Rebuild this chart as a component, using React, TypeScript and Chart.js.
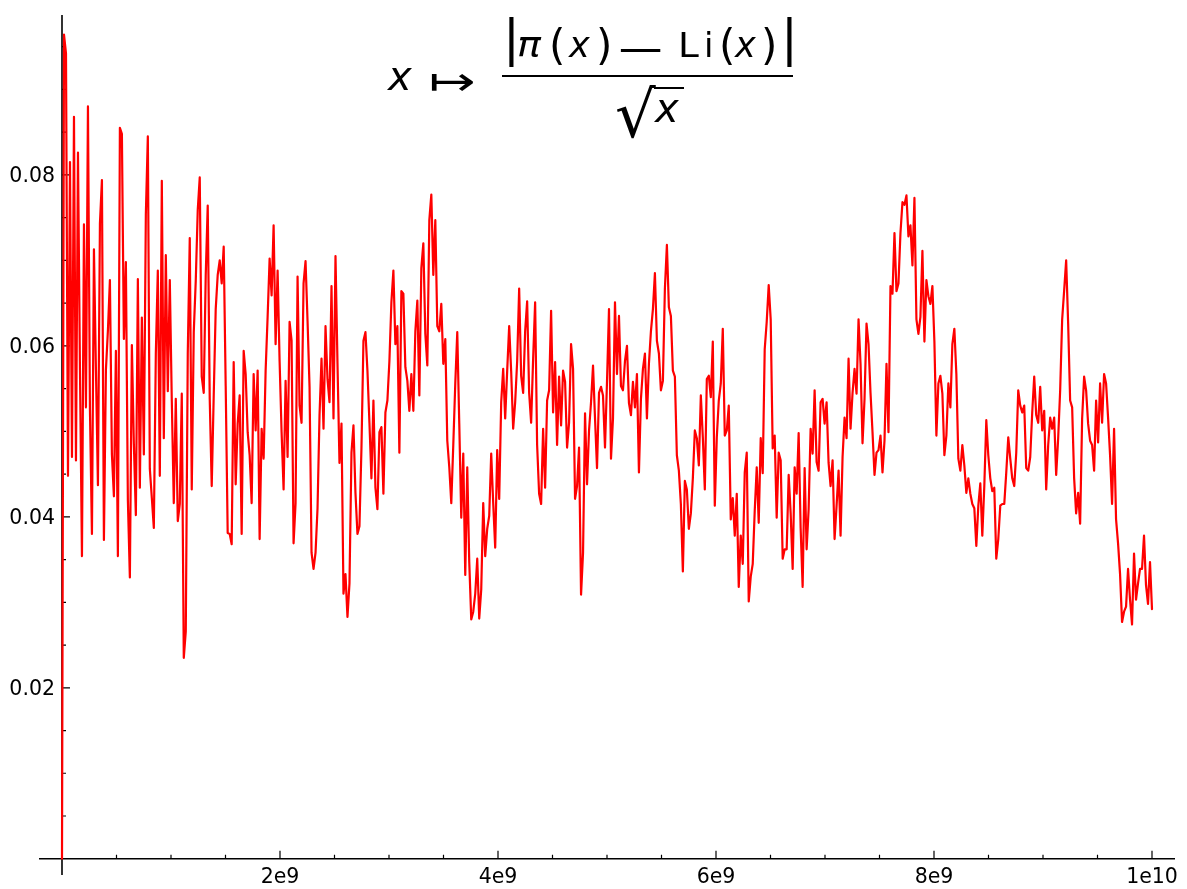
import React, { useEffect, useRef } from "react";
import { Chart, registerables } from "chart.js";

Chart.register(...registerables);

const WIDTH = 1187;
const HEIGHT = 889;

// sampled range of the function and the visible axis window
const X_FIRST = 0;
const X_LAST = 1e10;
const X_MIN = -2.11e8;
const X_MAX = 1.0211e10;
const Y_MIN = -0.0019;
const Y_MAX = 0.0987;

const RATIO_VALUES: number[] = [
  0,
  // 0 .. 1.0e9
  0.0964, 0.0942, 0.0448, 0.0815, 0.0470, 0.0868, 0.0466, 0.0826, 0.0572, 0.0354,
  0.0742, 0.0528, 0.0880, 0.0525, 0.0380, 0.0713, 0.0572, 0.0437, 0.0743, 0.0794,
  0.0373, 0.0572, 0.0618, 0.0677, 0.0473, 0.0424, 0.0594, 0.0354, 0.0855, 0.0848,
  0.0608, 0.0698, 0.0419, 0.0329, 0.0601, 0.0485, 0.0402, 0.0678, 0.0434, 0.0633,
  0.0473, 0.0754, 0.0845, 0.0456, 0.0422, 0.0387, 0.0591, 0.0688, 0.0448, 0.0793,
  0.0492, 0.0706, 0.0547, 0.0677,
  // 1.0e9 .. 2.0e9
  0.0536, 0.0416, 0.0538, 0.0395, 0.0415, 0.0544, 0.0235, 0.0266, 0.0591, 0.0726,
  0.0432, 0.0616, 0.0676, 0.0759, 0.0797, 0.0564, 0.0545, 0.0683, 0.0764, 0.0538,
  0.0436, 0.0542, 0.0643, 0.0683, 0.0700, 0.0673, 0.0716, 0.0553, 0.0381, 0.0380,
  0.0368, 0.0581, 0.0438, 0.0509, 0.0542, 0.0380, 0.0594, 0.0567, 0.0499, 0.0472,
  0.0416, 0.0567, 0.0501, 0.0571, 0.0374, 0.0503, 0.0468, 0.0571, 0.0634, 0.0702,
  0.0659, 0.0741, 0.0602, 0.0688, 0.0582,
  // 2.0e9 .. 3.0e9
  0.0499, 0.0432, 0.0559, 0.0470, 0.0628, 0.0606, 0.0369, 0.0416, 0.0681, 0.0530,
  0.0510, 0.0673, 0.0699, 0.0629, 0.0552, 0.0358, 0.0339, 0.0358, 0.0410, 0.0519,
  0.0585, 0.0503, 0.0623, 0.0561, 0.0534, 0.0670, 0.0515, 0.0705, 0.0579, 0.0463,
  0.0509, 0.0310, 0.0333, 0.0283, 0.0322, 0.0475, 0.0507, 0.0428, 0.0380, 0.0389,
  0.0480, 0.0606, 0.0616, 0.0571, 0.0510, 0.0445, 0.0536, 0.0434, 0.0409, 0.0499,
  0.0505, 0.0427, 0.0522, 0.0536, 0.0582,
  // 3.0e9 .. 4.0e9
  0.0651, 0.0688, 0.0602, 0.0623, 0.0475, 0.0664, 0.0661, 0.0575, 0.0559, 0.0524,
  0.0567, 0.0524, 0.0617, 0.0653, 0.0542, 0.0691, 0.0720, 0.0614, 0.0577, 0.0747,
  0.0777, 0.0683, 0.0747, 0.0623, 0.0617, 0.0649, 0.0579, 0.0608, 0.0489, 0.0458,
  0.0416, 0.0484, 0.0556, 0.0616, 0.0509, 0.0399, 0.0474, 0.0332, 0.0458, 0.0347,
  0.0280, 0.0289, 0.0310, 0.0351, 0.0281, 0.0315, 0.0416, 0.0354, 0.0386, 0.0401,
  0.0474, 0.0416, 0.0364, 0.0478, 0.0421,
  // 4.0e9 .. 5.0e9
  0.0534, 0.0573, 0.0515, 0.0571, 0.0623, 0.0570, 0.0503, 0.0534, 0.0582, 0.0667,
  0.0565, 0.0545, 0.0617, 0.0652, 0.0545, 0.0510, 0.0585, 0.0651, 0.0484, 0.0427,
  0.0415, 0.0503, 0.0434, 0.0536, 0.0548, 0.0641, 0.0522, 0.0581, 0.0484, 0.0564,
  0.0507, 0.0571, 0.0558, 0.0481, 0.0510, 0.0602, 0.0573, 0.0421, 0.0436, 0.0481,
  0.0309, 0.0358, 0.0521, 0.0438, 0.0501, 0.0534, 0.0577, 0.0515, 0.0457, 0.0545,
  0.0552, 0.0542, 0.0481, 0.0558, 0.0643,
  // 5.0e9 .. 6.0e9
  0.0468, 0.0515, 0.0651, 0.0567, 0.0635, 0.0553, 0.0548, 0.0582, 0.0600, 0.0533,
  0.0519, 0.0558, 0.0528, 0.0567, 0.0452, 0.0538, 0.0573, 0.0591, 0.0515, 0.0579,
  0.0617, 0.0643, 0.0685, 0.0606, 0.0591, 0.0548, 0.0559, 0.0667, 0.0718, 0.0645,
  0.0635, 0.0571, 0.0564, 0.0472, 0.0454, 0.0415, 0.0336, 0.0442, 0.0432, 0.0386,
  0.0404, 0.0445, 0.0501, 0.0492, 0.0460, 0.0542, 0.0493, 0.0432, 0.0561, 0.0565,
  0.0540, 0.0605, 0.0413, 0.0493, 0.0536,
  // 6.0e9 .. 7.0e9
  0.0556, 0.0620, 0.0495, 0.0501, 0.0530, 0.0397, 0.0422, 0.0378, 0.0427, 0.0318,
  0.0378, 0.0345, 0.0452, 0.0475, 0.0301, 0.0330, 0.0345, 0.0407, 0.0458, 0.0393,
  0.0492, 0.0451, 0.0596, 0.0628, 0.0671, 0.0631, 0.0480, 0.0495, 0.0399, 0.0475,
  0.0466, 0.0351, 0.0362, 0.0362, 0.0449, 0.0404, 0.0339, 0.0458, 0.0427, 0.0498,
  0.0387, 0.0318, 0.0457, 0.0362, 0.0409, 0.0503, 0.0474, 0.0548, 0.0464, 0.0454,
  0.0534, 0.0538, 0.0509, 0.0534, 0.0463,
  // 7.0e9 .. 8.0e9
  0.0436, 0.0466, 0.0374, 0.0413, 0.0454, 0.0378, 0.0470, 0.0516, 0.0492, 0.0585,
  0.0503, 0.0545, 0.0573, 0.0544, 0.0631, 0.0579, 0.0486, 0.0538, 0.0626, 0.0602,
  0.0545, 0.0499, 0.0449, 0.0475, 0.0478, 0.0495, 0.0452, 0.0489, 0.0579, 0.0499,
  0.0670, 0.0661, 0.0732, 0.0664, 0.0673, 0.0732, 0.0768, 0.0765, 0.0776, 0.0728,
  0.0741, 0.0694, 0.0773, 0.0631, 0.0614, 0.0634, 0.0711, 0.0605, 0.0677, 0.0658,
  0.0649, 0.0670, 0.0605, 0.0495, 0.0556,
  // 8.0e9 .. 9.0e9
  0.0565, 0.0544, 0.0472, 0.0495, 0.0556, 0.0528, 0.0602, 0.0620, 0.0567, 0.0468,
  0.0454, 0.0484, 0.0460, 0.0428, 0.0445, 0.0427, 0.0415, 0.0410, 0.0366, 0.0413,
  0.0439, 0.0378, 0.0436, 0.0513, 0.0472, 0.0445, 0.0430, 0.0434, 0.0351, 0.0374,
  0.0413, 0.0415, 0.0415, 0.0452, 0.0493, 0.0468, 0.0445, 0.0436, 0.0475, 0.0548,
  0.0530, 0.0522, 0.0530, 0.0457, 0.0454, 0.0470, 0.0522, 0.0564, 0.0519, 0.0510,
  0.0552, 0.0501, 0.0524, 0.0432, 0.0484,
  // 9.0e9 .. 1.0e10
  0.0516, 0.0503, 0.0516, 0.0449, 0.0492, 0.0548, 0.0631, 0.0665, 0.0700, 0.0626,
  0.0536, 0.0528, 0.0445, 0.0404, 0.0428, 0.0392, 0.0515, 0.0564, 0.0548, 0.0509,
  0.0489, 0.0484, 0.0454, 0.0536, 0.0487, 0.0556, 0.0510, 0.0567, 0.0556, 0.0516,
  0.0472, 0.0415, 0.0503, 0.0397, 0.0369, 0.0333, 0.0277, 0.0289, 0.0295, 0.0339,
  0.0303, 0.0274, 0.0357, 0.0303, 0.0322, 0.0339, 0.0339, 0.0378, 0.0320, 0.0298,
  0.0347, 0.0292,
];

const X_MAJOR_TICKS = [2e9, 4e9, 6e9, 8e9, 1e10];
const X_TICK_LABELS = ["2e9", "4e9", "6e9", "8e9", "1e10"];
const X_MINOR_TICKS = [5e8, 1e9, 1.5e9, 2.5e9, 3e9, 3.5e9, 4.5e9, 5e9, 5.5e9, 6.5e9, 7e9, 7.5e9, 8.5e9, 9e9, 9.5e9];
const Y_MAJOR_TICKS = [0.02, 0.04, 0.06, 0.08];
const Y_TICK_LABELS = ["0.02", "0.04", "0.06", "0.08"];
const Y_MINOR_TICKS = [0.005, 0.01, 0.015, 0.025, 0.03, 0.035, 0.045, 0.05, 0.055, 0.065, 0.07, 0.075, 0.085, 0.09, 0.095];

const AXIS_FONT = '20.5px "DejaVu Sans"';
const LINE_COLOR = "#ff0000";

const axesPlugin = {
  id: "crossedAxes",
  beforeDatasetsDraw(chart: any) {
    const { ctx, chartArea: a, scales } = chart;
    const xs = scales.x;
    const ys = scales.y;
    const x0 = xs.getPixelForValue(0);
    const y0 = ys.getPixelForValue(0);
    ctx.save();
    ctx.strokeStyle = "#000";
    ctx.lineWidth = 1.6;
    ctx.beginPath();
    ctx.moveTo(a.left, y0);
    ctx.lineTo(a.right, y0);
    ctx.moveTo(x0, a.top);
    ctx.lineTo(x0, a.bottom);
    ctx.stroke();

    ctx.lineWidth = 1.2;
    ctx.beginPath();
    X_MAJOR_TICKS.forEach((t) => {
      const p = xs.getPixelForValue(t);
      ctx.moveTo(p, y0);
      ctx.lineTo(p, y0 - 8);
    });
    X_MINOR_TICKS.forEach((t) => {
      const p = xs.getPixelForValue(t);
      ctx.moveTo(p, y0);
      ctx.lineTo(p, y0 - 4);
    });
    Y_MAJOR_TICKS.forEach((t) => {
      const p = ys.getPixelForValue(t);
      ctx.moveTo(x0, p);
      ctx.lineTo(x0 + 8, p);
    });
    Y_MINOR_TICKS.forEach((t) => {
      const p = ys.getPixelForValue(t);
      ctx.moveTo(x0, p);
      ctx.lineTo(x0 + 4, p);
    });
    ctx.stroke();

    ctx.fillStyle = "#000";
    ctx.font = AXIS_FONT;
    ctx.textAlign = "center";
    ctx.textBaseline = "alphabetic";
    X_MAJOR_TICKS.forEach((t, i) => {
      ctx.fillText(X_TICK_LABELS[i], xs.getPixelForValue(t), y0 + 24);
    });
    ctx.textAlign = "right";
    Y_MAJOR_TICKS.forEach((t, i) => {
      ctx.fillText(Y_TICK_LABELS[i], x0 - 7, ys.getPixelForValue(t) + 7.5);
    });
    ctx.restore();
  },
};

// glyph, font style, font size, left x, baseline y, horizontal stretch
type Glyph = [string, string, number, number, number, number];
const FORMULA_GLYPHS: Glyph[] = [
  ["x", "italic", 40, 388, 90, 1],
  ["\u21A6", "normal", 40, 429, 95, 1.4],
  ["|", "normal", 50, 503, 55, 1],
  ["\u03C0", "italic", 36, 517, 57, 1.1],
  ["(", "normal", 42, 549, 60, 1],
  ["x", "italic", 35, 569, 57, 1],
  [")", "normal", 42, 596, 60, 1],
  ["\u2212", "normal", 36, 614, 62, 1.75],
  ["L", "normal", 34, 678, 57, 1.1],
  ["i", "normal", 34, 704, 57, 1],
  ["(", "normal", 42, 719, 60, 1],
  ["x", "italic", 35, 735, 57, 1],
  [")", "normal", 42, 761, 60, 1],
  ["|", "normal", 50, 781, 55, 1],
  ["\u221A", "normal", 64, 615, 137, 1],
  ["x", "italic", 40, 655, 122, 1],
];

const formulaPlugin = {
  id: "formulaTitle",
  afterDraw(chart: any) {
    const ctx = chart.ctx;
    ctx.save();
    ctx.fillStyle = "#000";
    ctx.textAlign = "left";
    ctx.textBaseline = "alphabetic";
    FORMULA_GLYPHS.forEach(([s, style, size, gx, gy, stretch]) => {
      ctx.font = `${style === "italic" ? "italic " : ""}${size}px "DejaVu Sans"`;
      ctx.save();
      ctx.translate(gx, gy);
      ctx.scale(stretch, 1);
      ctx.fillText(s, 0, 0);
      ctx.restore();
    });
    // fraction bar and radical overbar
    ctx.fillRect(502, 75, 291, 2);
    ctx.fillRect(654, 87, 30, 2);
    ctx.restore();
  },
};

export default function App() {
  const ref = useRef<HTMLCanvasElement>(null);
  useEffect(() => {
    document.body.style.margin = "0";
    const canvas = ref.current;
    if (!canvas) return;
    const n = RATIO_VALUES.length;
    const points = RATIO_VALUES.map((v, i) => ({
      x: X_FIRST + ((X_LAST - X_FIRST) * i) / (n - 1),
      y: v,
    }));
    const chart = new Chart(canvas, {
      type: "line",
      data: {
        datasets: [
          {
            data: points,
            borderColor: LINE_COLOR,
            borderWidth: 2.2,
            pointRadius: 0,
            tension: 0,
            fill: false,
            borderJoinStyle: "round",
            borderCapStyle: "round",
          } as any,
        ],
      },
      options: {
        animation: false,
        responsive: false,
        maintainAspectRatio: false,
        events: [],
        layout: { padding: { left: 39, right: 12, top: 15, bottom: 14 } },
        plugins: {
          legend: { display: false },
          tooltip: { enabled: false },
          title: { display: false },
        },
        scales: {
          x: { type: "linear", min: X_MIN, max: X_MAX, display: false },
          y: { type: "linear", min: Y_MIN, max: Y_MAX, display: false },
        },
      },
      plugins: [axesPlugin, formulaPlugin],
    });
    return () => chart.destroy();
  }, []);
  return <canvas ref={ref} width={WIDTH} height={HEIGHT} style={{ display: "block" }} />;
}
